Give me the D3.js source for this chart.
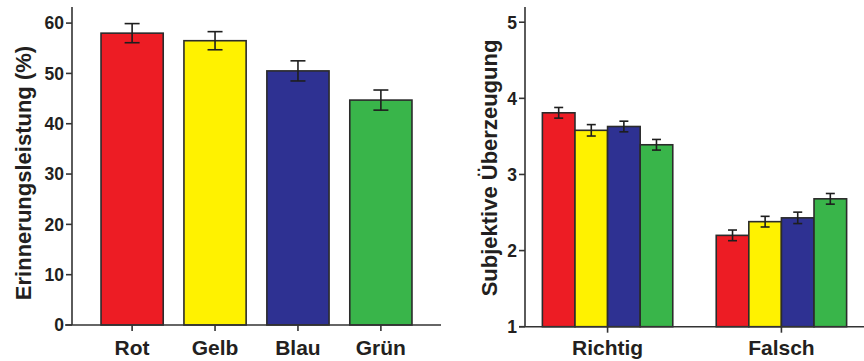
<!DOCTYPE html>
<html>
<head>
<meta charset="utf-8">
<script src="https://cdn.jsdelivr.net/npm/d3@7"></script>
<style>
	body { margin: 0; background: #fff; }
	svg text { font-family: "Liberation Sans", Arial, sans-serif; font-weight: bold; fill: #231f20; }
	.bar { stroke: #2b2b2b; stroke-width: 1.6; }
	.err { stroke: #1e1e1e; stroke-width: 1.6; fill: none; }
	.axisLine { stroke: #333; stroke-width: 1.6; fill: none; }
</style>
</head>
<body>
<svg id="chart" width="864" height="361"></svg>
<script>
// data
var colorNames = ['Rot', 'Gelb', 'Blau', 'Grün'];
var barColors = ['#ed1c24', '#fff200', '#2e3192', '#39b54a'];
var recall = [58.0, 56.5, 50.5, 44.7];
var recallErr = [1.9, 1.8, 2.0, 2.0];
var recallTicks = [0, 10, 20, 30, 40, 50, 60];

var outcomes = ['Richtig', 'Falsch'];
var confRichtig = [3.81, 3.58, 3.63, 3.39];
var confRichtigErr = [0.07, 0.075, 0.07, 0.07];
var confFalsch = [2.20, 2.38, 2.43, 2.68];
var confFalschErr = [0.07, 0.07, 0.075, 0.07];
var confTicks = [1, 2, 3, 4, 5];

var svg = d3.select('#chart');

// draws y axis line, ticks and labels by hand so the look matches
function yAxis(g, y, ticks, x0, top, bottom)
{
	g.append('line').attr('class', 'axisLine')
		.attr('x1', x0).attr('x2', x0).attr('y1', top).attr('y2', bottom);
	ticks.forEach(function(t) {
		g.append('line').attr('class', 'axisLine')
			.attr('x1', x0 - 6).attr('x2', x0).attr('y1', y(t)).attr('y2', y(t));
		g.append('text')
			.attr('x', x0 - 8).attr('y', y(t)).attr('dy', '0.36em')
			.attr('text-anchor', 'end').style('font-size', '17.5px')
			.text(t);
	});
}

function yTitle(g, text, x, yc)
{
	g.append('text')
		.attr('transform', 'translate(' + x + ',' + yc + ') rotate(-90)')
		.attr('text-anchor', 'middle').style('font-size', '22px')
		.text(text);
}

function errBar(g, cx, y, v, e, cap)
{
	g.append('line').attr('class', 'err')
		.attr('x1', cx).attr('x2', cx).attr('y1', y(v + e)).attr('y2', y(v - e));
	[v + e, v - e].forEach(function(w) {
		g.append('line').attr('class', 'err')
			.attr('x1', cx - cap / 2).attr('x2', cx + cap / 2).attr('y1', y(w)).attr('y2', y(w));
	});
}

// ---- left panel: Erinnerungsleistung
(function() {
	var g = svg.append('g');
	var y = d3.scaleLinear().domain([0, 63]).range([325, 8]);
	var x = d3.scaleBand().domain(colorNames).range([72, 441])
		.paddingInner(0.25).paddingOuter(0.35);

	colorNames.forEach(function(c, i) {
		g.append('rect').attr('class', 'bar')
			.attr('x', x(c)).attr('y', y(recall[i]))
			.attr('width', x.bandwidth()).attr('height', y(0) - y(recall[i]))
			.attr('fill', barColors[i]);
		errBar(g, x(c) + x.bandwidth() / 2, y, recall[i], recallErr[i], 15);

		var cx = x(c) + x.bandwidth() / 2;
		g.append('line').attr('class', 'axisLine')
			.attr('x1', cx).attr('x2', cx).attr('y1', y(0)).attr('y2', y(0) + 6);
		g.append('text')
			.attr('x', cx).attr('y', 355)
			.attr('text-anchor', 'middle').style('font-size', '21px')
			.text(c);
	});

	g.append('line').attr('class', 'axisLine')
		.attr('x1', 65).attr('x2', 441).attr('y1', y(0)).attr('y2', y(0));
	yAxis(g, y, recallTicks, 72, 7, y(0));
	yTitle(g, 'Erinnerungsleistung (%)', 31, 173);
})();

// ---- right panel: Subjektive Überzeugung
(function() {
	var g = svg.append('g');
	var y = d3.scaleLinear().domain([1, 5.2]).range([326.7, 7]);
	var x0 = d3.scaleBand().domain(outcomes).range([525, 864])
		.paddingInner(0.25).paddingOuter(0.1);
	var x1 = d3.scaleBand().domain(colorNames).range([0, x0.bandwidth()]);
	var vals = { 'Richtig': [confRichtig, confRichtigErr], 'Falsch': [confFalsch, confFalschErr] };

	outcomes.forEach(function(o) {
		var v = vals[o][0], e = vals[o][1];
		colorNames.forEach(function(c, i) {
			g.append('rect').attr('class', 'bar')
				.attr('x', x0(o) + x1(c)).attr('y', y(v[i]))
				.attr('width', x1.bandwidth()).attr('height', y(1) - y(v[i]))
				.attr('fill', barColors[i]);
		});
		colorNames.forEach(function(c, i) {
			errBar(g, x0(o) + x1(c) + x1.bandwidth() / 2, y, v[i], e[i], 9);
		});

		var cx = x0(o) + x0.bandwidth() / 2;
		g.append('line').attr('class', 'axisLine')
			.attr('x1', cx).attr('x2', cx).attr('y1', y(1)).attr('y2', y(1) + 6);
		g.append('text')
			.attr('x', cx).attr('y', 355)
			.attr('text-anchor', 'middle').style('font-size', '21px')
			.text(o);
	});

	g.append('line').attr('class', 'axisLine')
		.attr('x1', 519).attr('x2', 864).attr('y1', y(1)).attr('y2', y(1));
	yAxis(g, y, confTicks, 525, 7, y(1));
	yTitle(g, 'Subjektive Überzeugung', 497, 168);
})();
</script>
</body>
</html>
